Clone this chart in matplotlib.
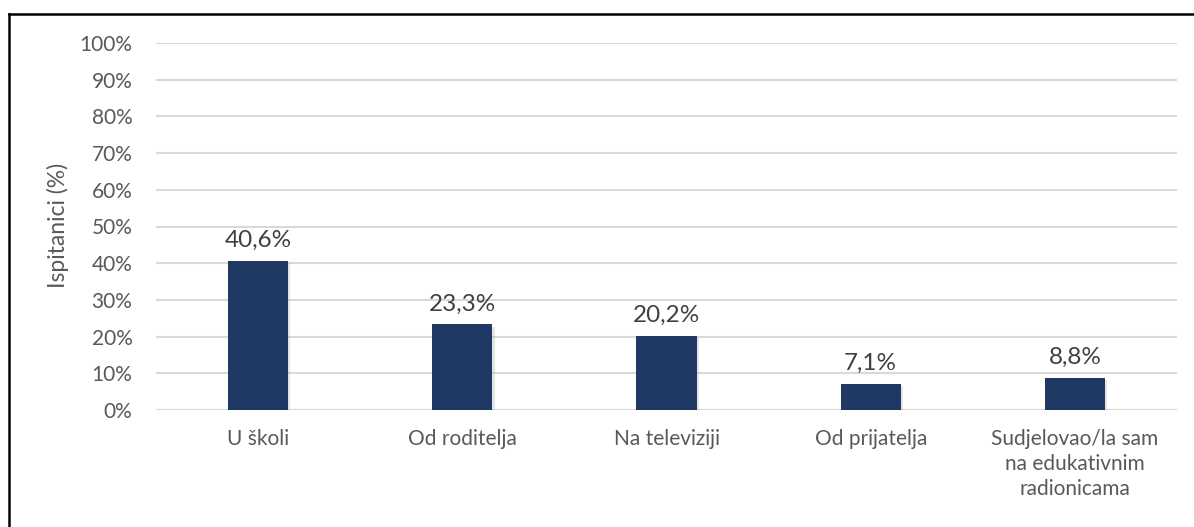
import matplotlib
matplotlib.use("Agg")
import matplotlib.pyplot as plt
import matplotlib.patheffects as pe
from matplotlib.lines import Line2D

categories = ["U školi", "Od roditelja", "Na televiziji", "Od prijatelja",
              "Sudjelovao/la sam\nna edukativnim\nradionicama"]
values = [40.6, 23.3, 20.2, 7.1, 8.8]
yticks = [0, 10, 20, 30, 40, 50, 60, 70, 80, 90, 100]

plt.rcParams['font.family'] = ['Lato', 'DejaVu Sans']
txt = '#595959'
bar_col = '#203864'

W, H = 1194, 527
fig = plt.figure(figsize=(W / 100, H / 100), dpi=100)
ax = fig.add_axes([156 / W, 1 - 410 / H, (1177 - 156) / W, (410 - 43) / H])

x = range(len(categories))
bars = ax.bar(x, values, width=0.295, color=bar_col, zorder=3)
for b in bars:
    b.set_path_effects([pe.SimplePatchShadow(offset=(1.5, -1.5), shadow_rgbFace='#999999', alpha=0.25),
                        pe.Normal()])

for i, v in enumerate(values):
    ax.annotate(f"{v:.1f}%".replace('.', ','), (i, v), xytext=(0, 7),
                textcoords='offset points', ha='center', va='bottom',
                fontsize=17.5, color='#404040')

ax.set_xlim(-0.5, len(categories) - 0.5)
ax.set_ylim(0, 100)
ax.set_yticks(yticks)
ax.set_yticklabels([f"{t}%" for t in yticks])
ax.set_xticks(list(x))
ax.set_xticklabels(categories, linespacing=1.3)
ax.tick_params(axis='y', length=0, pad=17, labelsize=15, labelcolor=txt)
ax.tick_params(axis='x', length=0, pad=14, labelsize=15, labelcolor=txt)
ax.yaxis.grid(True, color='#d9d9d9', linewidth=1.5, zorder=0)
for s in ax.spines.values():
    s.set_visible(False)
ax.axhline(0, color='#d9d9d9', linewidth=1.5, zorder=1)

fig.text(58 / W, 1 - 225 / H, "Ispitanici (%)", rotation=90, ha='center', va='center',
         fontsize=16.5, color=txt)

# outer frame (top and left only visible)
yt = 1 - 13.5 / H
xl = 8.5 / W
fig.add_artist(Line2D([xl, 1], [yt, yt], color='black', linewidth=1.8, transform=fig.transFigure))
fig.add_artist(Line2D([xl, xl], [0, yt], color='black', linewidth=1.8, transform=fig.transFigure))

fig.savefig("out.png", dpi=100)
